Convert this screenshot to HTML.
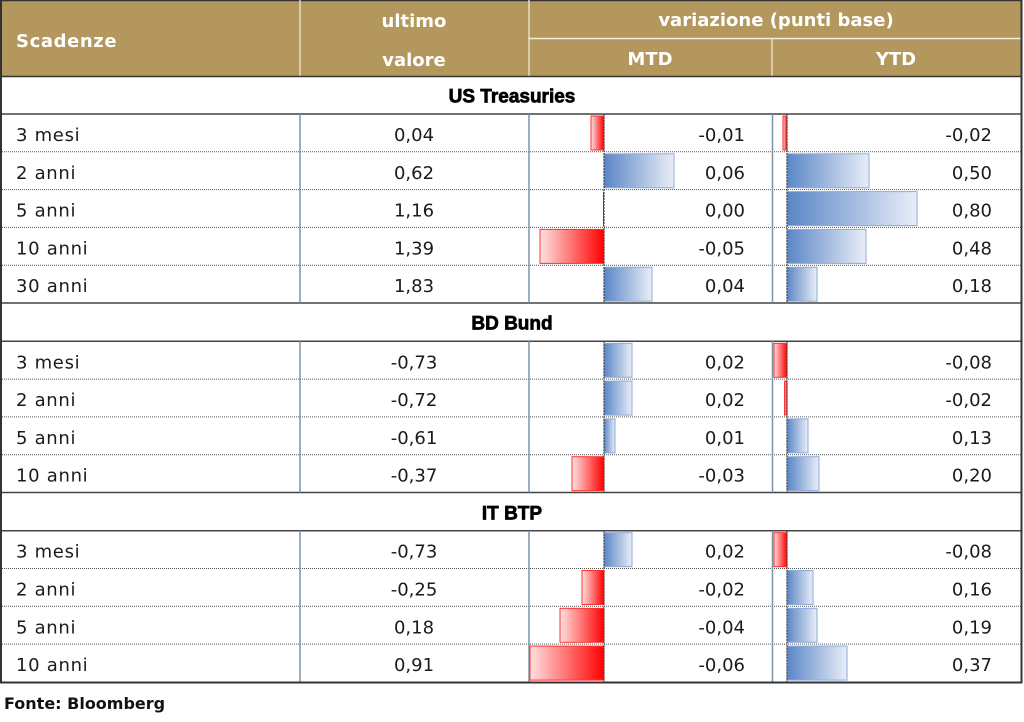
<!DOCTYPE html>
<html><head><meta charset="utf-8"><style>
html,body{margin:0;padding:0;background:#fff;}
svg{display:block;}
.h{font-family:"DejaVu Sans","Liberation Sans",sans-serif;font-weight:bold;font-size:18px;fill:#fff;}
.s{font-family:"Liberation Sans","DejaVu Sans",sans-serif;font-weight:bold;font-size:19px;fill:#000;stroke:#000;stroke-width:0.7px;}
.t{font-family:"DejaVu Sans","Liberation Sans",sans-serif;font-size:18px;fill:#1b1b1b;}
.l{letter-spacing:0.7px;}
.f{font-family:"DejaVu Sans","Liberation Sans",sans-serif;font-weight:bold;font-size:16px;fill:#111;}
</style></head><body>
<svg width="1024" height="722" viewBox="0 0 1024 722" xmlns="http://www.w3.org/2000/svg">
<defs>
<linearGradient id="gb" x1="0" x2="1" y1="0" y2="0"><stop offset="0" stop-color="#5a86c6"/><stop offset="1" stop-color="#e9eef7"/></linearGradient>
<linearGradient id="gr" x1="0" x2="1" y1="0" y2="0"><stop offset="0" stop-color="#ffe2e2"/><stop offset="1" stop-color="#ff0000"/></linearGradient>
</defs>
<!-- header -->
<rect x="0" y="0" width="1022" height="76" fill="#b4975d"/>
<line x1="0" y1="0.5" x2="1022" y2="0.5" stroke="#333" stroke-width="1.5"/>
<line x1="300" y1="0" x2="300" y2="76" stroke="#e6dcc4" stroke-width="1.5"/>
<line x1="529" y1="0" x2="529" y2="76" stroke="#e6dcc4" stroke-width="1.5"/>
<line x1="772" y1="38.5" x2="772" y2="76" stroke="#e6dcc4" stroke-width="1.5"/>
<line x1="529" y1="38.5" x2="1021" y2="38.5" stroke="#f2ede2" stroke-width="1.5"/>
<text class="h" x="16" y="47" style="letter-spacing:0.6px">Scadenze</text>
<text class="h" x="414" y="27" text-anchor="middle">ultimo</text>
<text class="h" x="414" y="66" text-anchor="middle">valore</text>
<text class="h" x="776" y="26" text-anchor="middle">variazione (punti base)</text>
<text class="h" x="650" y="65" text-anchor="middle">MTD</text>
<text class="h" x="896" y="65" text-anchor="middle">YTD</text>
<line x1="0" y1="76.5" x2="1022" y2="76.5" stroke="#333" stroke-width="1.5"/>

<!-- section titles -->
<text class="s" x="512" y="102.5" text-anchor="middle">US Treasuries</text>
<text class="s" x="512" y="329.5" text-anchor="middle">BD Bund</text>
<text class="s" x="512" y="519.5" text-anchor="middle">IT BTP</text>

<!-- section lines -->
<g stroke="#444" stroke-width="1.5">
<line x1="0" y1="114" x2="1022" y2="114"/>
<line x1="0" y1="303" x2="1022" y2="303"/>
<line x1="0" y1="341.3" x2="1022" y2="341.3"/>
<line x1="0" y1="492.5" x2="1022" y2="492.5"/>
<line x1="0" y1="530.7" x2="1022" y2="530.7"/>
</g>

<!-- dotted row lines -->
<g stroke="#555" stroke-width="1" stroke-dasharray="1 1">
<line x1="0" y1="151.8" x2="1021" y2="151.8"/>
<line x1="0" y1="189.6" x2="1021" y2="189.6"/>
<line x1="0" y1="227.4" x2="1021" y2="227.4"/>
<line x1="0" y1="265.2" x2="1021" y2="265.2"/>
<line x1="0" y1="379.1" x2="1021" y2="379.1"/>
<line x1="0" y1="416.9" x2="1021" y2="416.9"/>
<line x1="0" y1="454.7" x2="1021" y2="454.7"/>
<line x1="0" y1="568.5" x2="1021" y2="568.5"/>
<line x1="0" y1="606.3" x2="1021" y2="606.3"/>
<line x1="0" y1="644.1" x2="1021" y2="644.1"/>
</g>

<!-- vertical column lines -->
<g stroke="#7d93a8" stroke-width="1.5">
<line x1="300" y1="114" x2="300" y2="303"/><line x1="529" y1="114" x2="529" y2="303"/><line x1="772.5" y1="114" x2="772.5" y2="303"/>
<line x1="300" y1="341.3" x2="300" y2="492.5"/><line x1="529" y1="341.3" x2="529" y2="492.5"/><line x1="772.5" y1="341.3" x2="772.5" y2="492.5"/>
<line x1="300" y1="530.7" x2="300" y2="682"/><line x1="529" y1="530.7" x2="529" y2="682"/><line x1="772.5" y1="530.7" x2="772.5" y2="682"/>
</g>

<!-- bars -->
<g stroke-width="1">
<rect x="591" y="116" width="13" height="34" fill="url(#gr)" stroke="#ff3030"/>
<rect x="604" y="153.8" width="70" height="34" fill="url(#gb)" stroke="#8eaad8"/>
<rect x="603" y="191.6" width="1" height="34" fill="#ff0000"/>
<rect x="540" y="229.4" width="64" height="34" fill="url(#gr)" stroke="#ff3030"/>
<rect x="604" y="267.2" width="48" height="34" fill="url(#gb)" stroke="#8eaad8"/>
<rect x="783" y="116" width="4" height="34" fill="url(#gr)" stroke="#ff3030"/>
<rect x="787" y="153.8" width="82" height="34" fill="url(#gb)" stroke="#8eaad8"/>
<rect x="787" y="191.6" width="130" height="34" fill="url(#gb)" stroke="#8eaad8"/>
<rect x="787" y="229.4" width="79" height="34" fill="url(#gb)" stroke="#8eaad8"/>
<rect x="787" y="267.2" width="30" height="34" fill="url(#gb)" stroke="#8eaad8"/>
<rect x="604" y="343.3" width="28" height="34" fill="url(#gb)" stroke="#8eaad8"/>
<rect x="604" y="381.1" width="28" height="34" fill="url(#gb)" stroke="#8eaad8"/>
<rect x="604" y="418.9" width="11" height="34" fill="url(#gb)" stroke="#8eaad8"/>
<rect x="572" y="456.7" width="32" height="34" fill="url(#gr)" stroke="#ff3030"/>
<rect x="774" y="343.3" width="13" height="34" fill="url(#gr)" stroke="#ff3030"/>
<rect x="784.5" y="381.1" width="2.5" height="34" fill="url(#gr)" stroke="#ff3030"/>
<rect x="787" y="418.9" width="21" height="34" fill="url(#gb)" stroke="#8eaad8"/>
<rect x="787" y="456.7" width="32" height="34" fill="url(#gb)" stroke="#8eaad8"/>
<rect x="604" y="532.7" width="28" height="34" fill="url(#gb)" stroke="#8eaad8"/>
<rect x="582" y="570.5" width="22" height="34" fill="url(#gr)" stroke="#ff3030"/>
<rect x="560" y="608.3" width="44" height="34" fill="url(#gr)" stroke="#ff3030"/>
<rect x="530" y="646.1" width="74" height="34" fill="url(#gr)" stroke="#ff3030"/>
<rect x="774" y="532.7" width="13" height="34" fill="url(#gr)" stroke="#ff3030"/>
<rect x="787" y="570.5" width="26" height="34" fill="url(#gb)" stroke="#8eaad8"/>
<rect x="787" y="608.3" width="30" height="34" fill="url(#gb)" stroke="#8eaad8"/>
<rect x="787" y="646.1" width="60" height="34" fill="url(#gb)" stroke="#8eaad8"/>
</g>

<!-- axis dotted lines -->
<g stroke="#444" stroke-width="1.2" stroke-dasharray="2 1">
<line x1="604" y1="114" x2="604" y2="303"/><line x1="787" y1="114" x2="787" y2="303"/>
<line x1="604" y1="341.3" x2="604" y2="492.5"/><line x1="787" y1="341.3" x2="787" y2="492.5"/>
<line x1="604" y1="530.7" x2="604" y2="682"/><line x1="787" y1="530.7" x2="787" y2="682"/>
</g>

<!-- text rows -->
<g class="t">
<text class="l" x="16" y="141">3 mesi</text><text x="414" y="141" text-anchor="middle">0,04</text><text x="745" y="141" text-anchor="end">-0,01</text><text x="992" y="141" text-anchor="end">-0,02</text>
<text class="l" x="16" y="178.8">2 anni</text><text x="414" y="178.8" text-anchor="middle">0,62</text><text x="745" y="178.8" text-anchor="end">0,06</text><text x="992" y="178.8" text-anchor="end">0,50</text>
<text class="l" x="16" y="216.6">5 anni</text><text x="414" y="216.6" text-anchor="middle">1,16</text><text x="745" y="216.6" text-anchor="end">0,00</text><text x="992" y="216.6" text-anchor="end">0,80</text>
<text class="l" x="16" y="254.4">10 anni</text><text x="414" y="254.4" text-anchor="middle">1,39</text><text x="745" y="254.4" text-anchor="end">-0,05</text><text x="992" y="254.4" text-anchor="end">0,48</text>
<text class="l" x="16" y="292.2">30 anni</text><text x="414" y="292.2" text-anchor="middle">1,83</text><text x="745" y="292.2" text-anchor="end">0,04</text><text x="992" y="292.2" text-anchor="end">0,18</text>

<text class="l" x="16" y="368.3">3 mesi</text><text x="414" y="368.3" text-anchor="middle">-0,73</text><text x="745" y="368.3" text-anchor="end">0,02</text><text x="992" y="368.3" text-anchor="end">-0,08</text>
<text class="l" x="16" y="406.1">2 anni</text><text x="414" y="406.1" text-anchor="middle">-0,72</text><text x="745" y="406.1" text-anchor="end">0,02</text><text x="992" y="406.1" text-anchor="end">-0,02</text>
<text class="l" x="16" y="443.9">5 anni</text><text x="414" y="443.9" text-anchor="middle">-0,61</text><text x="745" y="443.9" text-anchor="end">0,01</text><text x="992" y="443.9" text-anchor="end">0,13</text>
<text class="l" x="16" y="481.7">10 anni</text><text x="414" y="481.7" text-anchor="middle">-0,37</text><text x="745" y="481.7" text-anchor="end">-0,03</text><text x="992" y="481.7" text-anchor="end">0,20</text>

<text class="l" x="16" y="557.7">3 mesi</text><text x="414" y="557.7" text-anchor="middle">-0,73</text><text x="745" y="557.7" text-anchor="end">0,02</text><text x="992" y="557.7" text-anchor="end">-0,08</text>
<text class="l" x="16" y="595.5">2 anni</text><text x="414" y="595.5" text-anchor="middle">-0,25</text><text x="745" y="595.5" text-anchor="end">-0,02</text><text x="992" y="595.5" text-anchor="end">0,16</text>
<text class="l" x="16" y="633.3">5 anni</text><text x="414" y="633.3" text-anchor="middle">0,18</text><text x="745" y="633.3" text-anchor="end">-0,04</text><text x="992" y="633.3" text-anchor="end">0,19</text>
<text class="l" x="16" y="671.1">10 anni</text><text x="414" y="671.1" text-anchor="middle">0,91</text><text x="745" y="671.1" text-anchor="end">-0,06</text><text x="992" y="671.1" text-anchor="end">0,37</text>
</g>

<!-- outer border -->
<g stroke="#333" stroke-width="2" fill="none">
<line x1="1" y1="0" x2="1" y2="683"/>
<line x1="1021.5" y1="0" x2="1021.5" y2="683"/>
<line x1="0" y1="682.5" x2="1022.5" y2="682.5"/>
</g>

<text class="f" x="4" y="709">Fonte: Bloomberg</text>
</svg>
</body></html>
